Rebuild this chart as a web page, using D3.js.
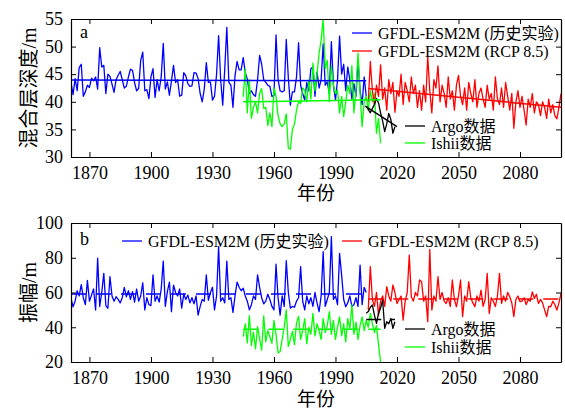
<!DOCTYPE html>
<html><head><meta charset="utf-8">
<script src="https://cdn.jsdelivr.net/npm/d3@7/dist/d3.min.js"></script>
<style>body{margin:0;background:#fff}svg{display:block}
svg text{font-family:"Liberation Serif","Times New Roman","Noto Sans CJK SC",serif !important;}</style>
</head><body><svg id="c" width="565" height="410"></svg>
<script>
// ---------- data ----------
const histStart = 1861, rcpStart = 2006, ishiiStart = 1945, argoStart = 2005;
const xTicks = [1870, 1900, 1930, 1960, 1990, 2020, 2050, 2080];
const yTicksA = [30, 35, 40, 45, 50, 55];
const yTicksB = [20, 40, 60, 80, 100];

// panel a: mixed layer depth (m)
const mldHist = [43.5,41.3,44.2,42.0,46.2,46.8,41.0,41.8,43.0,42.6,44.3,43.8,44.5,42.3,49.8,46.3,46.6,41.5,45.0,44.6,
43.2,41.7,44.0,44.8,45.5,44.0,42.5,42.8,44.5,45.9,45.7,43.5,42.0,42.4,47.5,49.0,42.0,42.2,40.6,44.5,
46.0,40.8,44.0,42.0,44.5,50.6,42.3,43.6,41.2,43.8,46.6,43.5,44.0,41.0,41.2,45.3,44.7,43.3,42.8,42.9,
45.3,45.2,44.2,41.5,40.0,42.3,47.1,43.5,43.6,40.3,41.0,45.0,52.0,44.0,39.4,46.0,53.5,43.5,43.0,39.0,
44.7,47.3,45.8,45.8,48.0,45.3,44.1,41.5,42.0,41.3,41.0,44.0,48.4,46.8,44.0,43.5,43.0,42.8,41.0,41.1,
52.1,44.0,42.0,41.8,42.0,51.3,44.3,39.4,41.8,41.8,44.5,50.7,43.0,41.5,40.3,43.5,42.0,46.0,46.3,41.0,
45.4,42.5,44.0,50.5,43.0,43.6,41.5,50.9,43.0,40.3,44.0,51.9,45.0,46.8,42.0,46.3,44.0,40.5,43.3,41.0,
47.5,42.0,39.5,44.5,41.0];
const mldRcp = [40.0,47.3,42.0,39.5,43.0,41.0,46.7,40.5,42.5,38.5,44.0,41.5,43.5,38.1,42.0,41.0,45.0,39.5,43.5,42.0,
40.0,44.5,41.5,43.0,39.0,42.0,38.5,43.0,40.0,48.2,42.0,38.0,44.0,42.5,46.5,40.0,43.0,41.5,39.0,44.5,
40.5,42.0,38.5,43.0,44.8,41.0,39.5,42.5,38.5,43.5,41.5,40.0,44.0,39.0,41.5,42.5,40.5,39.0,43.0,40.5,
41.5,38.5,44.5,40.5,39.5,42.5,39.0,43.5,41.0,38.5,41.5,35.2,40.0,42.0,39.0,41.0,38.5,35.8,40.5,39.0,
41.5,38.0,40.0,39.5,37.5,40.0,39.0,37.0,40.5,38.0,39.5,37.5,36.9,39.0,41.5];
const mldIshii = [40.9,46.0,38.0,44.0,37.0,39.0,40.0,38.0,41.5,42.4,38.8,39.0,35.7,38.0,35.5,42.5,41.0,37.5,36.0,35.5,
36.0,37.8,31.6,31.4,35.0,36.0,38.5,40.0,39.7,42.5,42.1,40.0,44.0,40.5,47.0,42.0,45.0,48.7,51.2,55.0,
46.0,47.5,40.0,46.5,43.0,41.5,42.1,38.0,41.0,37.3,40.0,43.0,41.5,46.5,38.0,42.0,48.8,41.5,35.5,40.0,
41.0,38.5,42.0,40.0,41.5,34.3,37.0,32.5];
const mldArgo = [39.2,38.6,38.0,38.8,39.5,40.6,39.8,38.0,36.5,34.6,36.0,37.9,36.8,34.3,35.5];
// trend lines (year, value)
const mldHistTrend = [[1861, 43.95], [2005, 43.8]];
const mldRcpTrend = [[2006, 42.4], [2100, 39.0]];
const mldIshiiTrend = [[1945, 40.0], [2012, 40.35]];
const mldArgoTrend = [[2004.5, 39.2], [2020, 35.5]];

// panel b: amplitude (m)
const ampHist = [56.6,51.8,55.0,61.0,58.0,64.5,57.0,53.0,67.0,55.0,58.5,62.0,49.9,79.7,52.0,60.0,71.0,52.5,50.9,69.1,
58.0,55.0,57.6,56.0,54.0,57.0,63.0,57.5,61.0,56.0,60.5,54.5,62.0,55.0,58.0,65.6,50.0,57.0,53.0,52.5,
70.2,55.0,58.0,54.5,62.0,78.1,52.0,60.5,66.0,49.0,64.3,60.0,58.0,62.0,51.0,59.0,56.0,58.5,54.0,57.0,
53.5,58.0,47.0,52.0,56.0,55.0,70.2,55.5,60.0,63.0,50.0,58.0,86.4,55.0,57.0,54.0,78.1,56.0,57.0,48.6,
58.0,66.0,63.0,61.0,62.5,58.0,55.0,50.0,53.0,58.0,56.0,70.2,63.0,57.0,53.5,55.0,59.0,56.0,52.0,50.0,
76.3,57.0,47.0,58.0,52.0,78.3,60.0,51.0,52.0,51.5,55.0,57.0,74.9,55.0,50.0,58.0,53.5,57.0,52.0,60.0,
54.0,49.0,58.0,83.5,52.0,56.0,60.0,92.1,56.0,58.0,53.0,82.5,70.0,56.0,51.8,54.0,58.0,52.0,53.0,57.0,
52.0,75.8,53.0,63.0,60.0];
const ampRcp = [50.0,74.9,56.0,52.0,60.0,47.0,55.0,58.0,52.0,63.3,58.0,55.0,64.3,60.0,53.7,56.0,58.0,44.1,55.0,60.0,
81.5,57.6,55.0,60.0,58.0,67.2,66.2,55.0,58.0,43.2,84.8,49.9,58.0,55.0,69.1,56.0,60.0,55.0,53.7,57.0,
52.0,67.2,56.0,51.8,58.0,67.2,46.1,58.0,55.0,66.2,57.0,54.0,51.8,58.0,55.0,61.4,52.0,56.0,71.0,48.0,
57.0,55.0,52.0,58.0,71.0,53.7,58.0,55.0,60.0,57.6,54.0,46.1,56.0,58.0,54.7,55.0,57.0,53.0,56.0,55.0,
60.4,56.6,59.0,53.7,56.0,54.0,50.0,46.1,52.0,51.8,55.0,53.0,49.9,54.0,59.5];
const ampIshii = [34.6,42.0,31.0,46.7,29.5,37.2,27.6,40.3,33.5,26.8,46.6,31.6,38.0,34.5,30.7,44.0,36.0,25.2,26.0,33.0,
40.0,50.0,29.0,33.0,37.6,30.0,42.4,46.3,33.0,38.0,45.0,30.5,40.0,36.0,48.0,35.0,42.0,38.0,33.0,45.0,
37.0,41.0,49.0,36.0,44.0,33.0,40.0,46.0,35.0,42.0,31.5,45.0,39.0,52.8,36.0,43.0,33.0,41.0,46.0,38.0,
44.0,40.0,48.0,42.0,37.0,41.0,30.0,20.0];
const ampArgo = [48.0,49.0,51.5,52.8,47.0,42.3,48.0,51.0,55.7,39.4,43.2,42.0,45.1,39.4,43.2];
const ampHistMean = [[1861, 59.1], [2005, 59.1]];
const ampRcpMean = [[2006, 56.3], [2100, 56.3]];
const ampIshiiMean = [[1945, 38.8], [2012, 38.8]];
const ampArgoMean = [[2005, 44.5], [2019, 44.5]];

const seriesNames = ["GFDL-ESM2M (历史实验)", "GFDL-ESM2M (RCP 8.5)", "Argo数据", "Ishii数据"];
const colors = {hist: "#0000ff", rcp: "#ff0000", argo: "#000000", ishii: "#00ff00"};

// ---------- drawing ----------
const svg = d3.select("#c");
const FONT = "Liberation Serif, Times New Roman, Noto Sans CJK SC, serif";
const x = d3.scaleLinear().domain([1861, 2100]).range([71, 561]);
const toPts = (start, arr) => arr.map((v, i) => [start + i, v]);

function panel(o) {
  const y = d3.scaleLinear().domain(o.yDomain).range([o.bottom, o.top]);
  const g = svg.append("g");
  const clipId = "clip" + o.label;
  svg.append("clipPath").attr("id", clipId).append("rect")
    .attr("x", 71).attr("y", o.top).attr("width", 490).attr("height", o.bottom - o.top);
  const line = d3.line().x(d => x(d[0])).y(d => y(d[1]));
  const data = g.append("g").attr("clip-path", `url(#${clipId})`);
  const series = [
    [o.hist, colors.hist], [o.ishii, colors.ishii], [o.rcp, colors.rcp], [o.argo, colors.argo]
  ];
  series.forEach(([pts, c]) => data.append("path").attr("d", line(pts)).attr("fill", "none")
    .attr("stroke", c).attr("stroke-width", 1.3).attr("stroke-linejoin", "round"));
  o.trends.forEach(([pts, c]) => data.append("path").attr("d", line(pts)).attr("fill", "none")
    .attr("stroke", c).attr("stroke-width", 1.5).attr("stroke-dasharray", o.dash || null));

  // axes
  const styleAxis = sel => {
    sel.attr("font-family", FONT).attr("font-size", 18);
    sel.selectAll("path.domain").attr("stroke", "#000").attr("stroke-width", 1.2);
    sel.selectAll(".tick line").attr("stroke", "#000").attr("stroke-width", 1);
    sel.selectAll("text").attr("fill", "#000");
  };
  g.append("g").attr("transform", `translate(0,${o.bottom})`)
    .call(d3.axisBottom(x).tickValues(xTicks).tickFormat(d3.format("d")).tickSize(-5).tickSizeOuter(0).tickPadding(9))
    .call(styleAxis);
  g.append("g").attr("transform", `translate(0,${o.top})`)
    .call(d3.axisTop(x).tickValues(xTicks).tickFormat("").tickSize(-5).tickSizeOuter(0))
    .call(styleAxis);
  g.append("g").attr("transform", `translate(71,0)`)
    .call(d3.axisLeft(y).tickValues(o.yTicks).tickSize(-5).tickSizeOuter(0).tickPadding(8))
    .call(styleAxis);
  g.append("g").attr("transform", `translate(561,0)`)
    .call(d3.axisRight(y).tickValues(o.yTicks).tickFormat("").tickSize(-5).tickSizeOuter(0))
    .call(styleAxis);

  // titles
  g.append("text").attr("x", 316).attr("y", o.xTitleY).attr("text-anchor", "middle")
    .attr("font-family", FONT).attr("font-size", 19).text("年份");
  g.append("text").attr("transform", `translate(36,${(o.top + o.bottom) / 2}) rotate(-90)`)
    .attr("text-anchor", "middle").attr("font-family", FONT).attr("font-size", 20).text(o.yTitle);
  g.append("text").attr("x", 80).attr("y", o.top + o.labelDy).attr("font-family", FONT)
    .attr("font-size", 18).text(o.label);

  // legend
  o.legend.forEach(([lx, ly, name, c]) => {
    g.append("line").attr("x1", lx).attr("x2", lx + 20).attr("y1", ly).attr("y2", ly)
      .attr("stroke", c).attr("stroke-width", 1.3);
    g.append("text").attr("x", lx + 26).attr("y", ly).attr("dy", "0.35em")
      .attr("font-family", FONT).attr("font-size", 16).text(name);
  });
}

panel({
  label: "a", top: 19, bottom: 157, yDomain: [30, 55], yTicks: yTicksA, yTitle: "混合层深度/m",
  xTitleY: 200, labelDy: 19,
  hist: toPts(histStart, mldHist), rcp: toPts(rcpStart, mldRcp),
  ishii: toPts(ishiiStart, mldIshii), argo: toPts(argoStart, mldArgo),
  trends: [[mldHistTrend, colors.hist], [mldIshiiTrend, colors.ishii], [mldRcpTrend, colors.rcp], [mldArgoTrend, colors.argo]],
  legend: [[352, 33, seriesNames[0], colors.hist], [352, 51, seriesNames[1], colors.rcp],
           [405, 126, seriesNames[2], colors.argo], [405, 143, seriesNames[3], colors.ishii]]
});
panel({
  label: "b", top: 223, bottom: 362, yDomain: [20, 100], yTicks: yTicksB, yTitle: "振幅/m",
  xTitleY: 406, labelDy: 22, dash: "15,10",
  hist: toPts(histStart, ampHist), rcp: toPts(rcpStart, ampRcp),
  ishii: toPts(ishiiStart, ampIshii), argo: toPts(argoStart, ampArgo),
  trends: [[ampHistMean, colors.hist], [ampIshiiMean, colors.ishii], [ampRcpMean, colors.rcp], [ampArgoMean, colors.argo]],
  legend: [[122, 241, seriesNames[0], colors.hist], [342, 241, seriesNames[1], colors.rcp],
           [405, 329, seriesNames[2], colors.argo], [405, 347, seriesNames[3], colors.ishii]]
});
</script></body></html>
